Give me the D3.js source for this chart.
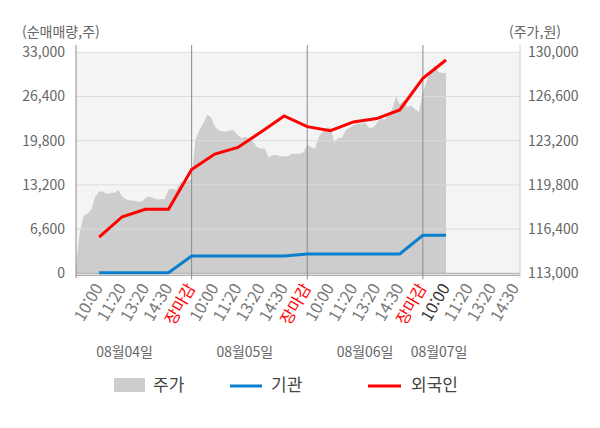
<!DOCTYPE html>
<html lang="ko">

<head>
    <meta charset="UTF-8">
    <meta name="viewport" content="width=device-width, initial-scale=1.0">
    <title>순매매량 / 주가</title>
    <style>
        * {
            margin: 0;
            padding: 0;
        }

        html,
        body {
            overflow: hidden;
            background: #fff;
        }

        text {
            font-family: "Noto Sans CJK KR", "Noto Sans", sans-serif;
        }
    </style>
</head>

<body>
    <div id="chart"></div>
    <script src="https://cdnjs.cloudflare.com/ajax/libs/d3/7.8.5/d3.min.js"></script>
    <script>
        // x 슬롯 라벨 (일자별)
        const xLabels = [
            '10:00', '11:20', '13:20', '14:30', '장마감',
            '10:00', '11:20', '13:20', '14:30', '장마감',
            '10:00', '11:20', '13:20', '14:30', '장마감',
            '10:00', '11:20', '13:20', '14:30'
        ]
        const dayLabels = ['08월04일', '08월05일', '08월06일', '08월07일']

        // 순매매량 (주), 슬롯별
        const foreign = [5400, 8450, 9550, 9550, 15500, 17800, 18800, 21100, 23500, 21900,
            21300, 22600, 23100, 24400, 29100, 31850]
        const institution = [100, 100, 100, 100, 2580, 2580, 2580, 2580, 2580, 2880,
            2880, 2880, 2880, 2880, 5670, 5670]

        // 주가 (원), 슬롯의 1/6 간격, 첫 값은 슬롯 -1
        const priceStart = -1
        const priceStep = 1 / 6
        const price = [
            113600, 116200, 117400, 117600, 117900, 118900, 119300, 119300, 119100, 119200,
            119200, 119400, 118900, 118700, 118600, 118600, 118500, 118500, 118800, 118900,
            118800, 118700, 118700, 118700, 119400, 119500, 119400, 120000, 119900, 120100,
            120300, 123300, 124000, 124500, 125200, 125000, 124300, 124000, 123900, 123900,
            124000, 124000, 123600, 123400, 123500, 123300, 123100, 122700, 122600, 122600,
            121900, 122100, 122100, 122000, 122000, 122000, 122200, 122200, 122200, 122300,
            122900, 122700, 122600, 123500, 123900, 124200, 124200, 123100, 123400, 123400,
            124000, 124200, 124400, 124500, 124500, 124600, 124200, 124200, 124500, 125000,
            124800, 125200, 125600, 126600, 126000, 126300, 125800, 125900, 125600, 125400,
            126900, 127800, 128500, 129000, 128500, 128400, 128400
        ]

        const leftTicks = [0, 6600, 13200, 19800, 26400, 33000]
        const rightTicks = [113000, 116400, 119800, 123200, 126600, 130000]
        const closeSlots = [4, 9, 14]

        function drawChart() {
            const width = 600
            const height = 428
            const left = 76
            const right = 520
            const top = 52.3
            const bottom = 273.3

            const svg = d3.select('#chart')
                .append('svg')
                .attr('width', width)
                .attr('height', height)

            const x = d3.scaleLinear().domain([-1, 18.2]).range([left, right])
            const yL = d3.scaleLinear().domain([0, 33000]).range([bottom, top])
            const yR = d3.scaleLinear().domain([113000, 130000]).range([bottom, top])

            svg.append('rect')
                .attr('x', left)
                .attr('y', top)
                .attr('width', right - left)
                .attr('height', bottom - top + 2)
                .attr('fill', '#f4f4f4')

            const area = d3.area()
                .x((d, i) => x(priceStart + i * priceStep))
                .y0(yR(113000))
                .y1(d => yR(d))

            svg.append('path')
                .datum(price)
                .attr('d', area)
                .attr('fill', '#cdcdcd')

            // grid
            svg.append('g')
                .selectAll('line')
                .data(leftTicks.slice(1))
                .join('line')
                .attr('x1', left)
                .attr('x2', right)
                .attr('y1', d => yL(d))
                .attr('y2', d => yL(d))
                .attr('stroke', '#dcdcdc')

            svg.append('line')
                .attr('x1', left).attr('x2', right)
                .attr('y1', yL(0)).attr('y2', yL(0))
                .attr('stroke', '#aaa')
            svg.append('line')
                .attr('x1', left).attr('x2', right)
                .attr('y1', bottom + 2).attr('y2', bottom + 2)
                .attr('stroke', '#999')

            // day separators
            svg.append('g')
                .selectAll('line')
                .data(closeSlots)
                .join('line')
                .attr('x1', d => x(d))
                .attr('x2', d => x(d))
                .attr('y1', 45)
                .attr('y2', bottom + 6)
                .attr('stroke', '#8c8c8c')

            svg.append('line')
                .attr('x1', left).attr('x2', left)
                .attr('y1', 45).attr('y2', bottom + 5)
                .attr('stroke', '#8c8c8c')
            svg.append('line')
                .attr('x1', right).attr('x2', right)
                .attr('y1', 45).attr('y2', bottom + 5)
                .attr('stroke', '#cfcfcf')

            const line = d3.line()
                .x((d, i) => x(i))
                .y(d => yL(d))

            svg.append('path')
                .datum(institution)
                .attr('d', line)
                .attr('fill', 'none')
                .attr('stroke', '#0a80cc')
                .attr('stroke-width', 3)

            svg.append('path')
                .datum(foreign)
                .attr('d', line)
                .attr('fill', 'none')
                .attr('stroke', '#ff0000')
                .attr('stroke-width', 3)

            // axes
            const gl = svg.append('g')
                .attr('transform', 'translate(68,0)')
                .call(d3.axisLeft(yL).tickValues(leftTicks).tickSize(0).tickPadding(3).tickFormat(d3.format(',')))
            const gr = svg.append('g')
                .attr('transform', `translate(${right},0)`)
                .call(d3.axisRight(yR).tickValues(rightTicks).tickSize(0).tickPadding(8).tickFormat(d3.format(',')))
            const gb = svg.append('g')
                .attr('transform', `translate(0,${bottom + 10})`)
                .call(d3.axisBottom(x).tickValues(d3.range(xLabels.length)).tickSize(0).tickFormat(i => xLabels[i]))

            for (const g of [gl, gr, gb]) {
                g.select('.domain').remove()
                g.selectAll('text')
                    .attr('font-family', '"Noto Sans CJK KR", sans-serif')
                    .attr('font-size', 14)
                    .attr('fill', '#666')
            }

            gb.selectAll('text')
                .attr('x', -2)
                .attr('y', 0)
                .attr('dy', '0.35em')
                .attr('transform', 'rotate(-60)')
                .attr('font-size', 16)
                .style('text-anchor', 'end')
                .attr('fill', (d, i) => xLabels[i] === '장마감' ? '#ff0000' : (i === 15 ? '#333' : '#777'))

            svg.append('text')
                .attr('x', 22).attr('y', 33)
                .attr('dominant-baseline', 'middle')
                .attr('font-size', 14).attr('fill', '#666')
                .text('(순매매량,주)')
            svg.append('text')
                .attr('x', 509).attr('y', 33)
                .attr('dominant-baseline', 'middle')
                .attr('font-size', 14).attr('fill', '#666')
                .text('(주가,원)')

            // date labels
            const dayPos = [1.1, 6.3, 11.5, 14.7]
            svg.append('g')
                .selectAll('text')
                .data(dayLabels)
                .join('text')
                .attr('x', (d, i) => x(dayPos[i]))
                .attr('y', 353)
                .attr('dominant-baseline', 'middle')
                .attr('text-anchor', 'middle')
                .attr('font-size', 14)
                .attr('fill', '#666')
                .text(d => d)

            // legend
            const lg = svg.append('g')
            lg.append('rect')
                .attr('x', 114).attr('y', 378).attr('width', 31).attr('height', 14)
                .attr('fill', '#cdcdcd')
            lg.append('line')
                .attr('x1', 230).attr('x2', 262).attr('y1', 386).attr('y2', 386)
                .attr('stroke', '#0a80cc').attr('stroke-width', 3)
            lg.append('line')
                .attr('x1', 368).attr('x2', 401).attr('y1', 386).attr('y2', 386)
                .attr('stroke', '#ff0000').attr('stroke-width', 3)
            lg.selectAll('text')
                .data([['주가', 153], ['기관', 271], ['외국인', 411]])
                .join('text')
                .attr('x', d => d[1])
                .attr('y', 386)
                .attr('dominant-baseline', 'middle')
                .attr('font-size', 17)
                .attr('fill', '#444')
                .text(d => d[0])
        }

        drawChart()
    </script>
</body>

</html>
